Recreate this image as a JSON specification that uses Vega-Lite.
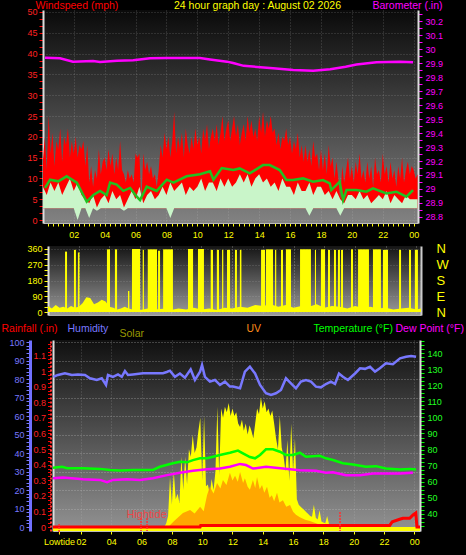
{
  "$schema": "https://vega.github.io/schema/vega-lite/v6.json",
  "background": "#000000",
  "padding": {"left": 0, "top": 0, "right": 2, "bottom": 9},
  "config": {
    "view": {"stroke": null},
    "font": "Liberation Sans",
    "axis": {"labelFont": "Liberation Sans", "titleFont": "Liberation Sans", "titleFontWeight": "normal", "labelFontSize": 9, "titleFontSize": 10.5, "gridDash": [1, 2], "gridColor": "#c8c8c8", "gridOpacity": 0.55, "tickWidth": 1, "labelOverlap": false}
  },
  "datasets": {
    "gust": [
      {"h":0,"g":14},{"h":0.125,"g":20},{"h":0.25,"g":12},{"h":0.375,"g":25},{"h":0.5,"g":16},{"h":0.625,"g":21},{"h":0.75,"g":13},{"h":0.875,"g":19},
      {"h":1,"g":17},{"h":1.125,"g":22},{"h":1.25,"g":14},{"h":1.375,"g":20},{"h":1.5,"g":18},{"h":1.625,"g":22},{"h":1.75,"g":15},{"h":1.875,"g":19},
      {"h":2,"g":16},{"h":2.125,"g":20},{"h":2.25,"g":15},{"h":2.375,"g":18},{"h":2.5,"g":17},{"h":2.625,"g":19},{"h":2.75,"g":13},{"h":2.875,"g":18},
      {"h":3,"g":9},{"h":3.125,"g":13},{"h":3.25,"g":8},{"h":3.375,"g":12},{"h":3.5,"g":10},{"h":3.625,"g":17},{"h":3.75,"g":11},{"h":3.875,"g":14},
      {"h":4,"g":15},{"h":4.125,"g":12},{"h":4.25,"g":17},{"h":4.375,"g":13},{"h":4.5,"g":16},{"h":4.625,"g":11},{"h":4.75,"g":15},{"h":4.875,"g":12},
      {"h":5,"g":19},{"h":5.125,"g":12},{"h":5.25,"g":11},{"h":5.375,"g":9},{"h":5.5,"g":12},{"h":5.625,"g":10},{"h":5.75,"g":11},{"h":5.875,"g":9},
      {"h":6,"g":16},{"h":6.125,"g":15},{"h":6.25,"g":16},{"h":6.375,"g":4},{"h":6.5,"g":16},{"h":6.625,"g":12},{"h":6.75,"g":14},{"h":6.875,"g":11},
      {"h":7,"g":13},{"h":7.125,"g":10},{"h":7.25,"g":11},{"h":7.375,"g":8},{"h":7.5,"g":12},{"h":7.625,"g":18},{"h":7.75,"g":15},{"h":7.875,"g":21},
      {"h":8,"g":17},{"h":8.125,"g":20},{"h":8.25,"g":15},{"h":8.375,"g":19},{"h":8.5,"g":26},{"h":8.625,"g":16},{"h":8.75,"g":20},{"h":8.875,"g":17},
      {"h":9,"g":21},{"h":9.125,"g":15},{"h":9.25,"g":22},{"h":9.375,"g":18},{"h":9.5,"g":16},{"h":9.625,"g":20},{"h":9.75,"g":17},{"h":9.875,"g":22},
      {"h":10,"g":18},{"h":10.125,"g":20},{"h":10.25,"g":16},{"h":10.375,"g":22},{"h":10.5,"g":19},{"h":10.625,"g":23},{"h":10.75,"g":17},{"h":10.875,"g":20},
      {"h":11,"g":22},{"h":11.125,"g":19},{"h":11.25,"g":23},{"h":11.375,"g":18},{"h":11.5,"g":21},{"h":11.625,"g":25},{"h":11.75,"g":19},{"h":11.875,"g":22},
      {"h":12,"g":24},{"h":12.125,"g":19},{"h":12.25,"g":22},{"h":12.375,"g":25},{"h":12.5,"g":20},{"h":12.625,"g":23},{"h":12.75,"g":18},{"h":12.875,"g":21},
      {"h":13,"g":23},{"h":13.125,"g":19},{"h":13.25,"g":25},{"h":13.375,"g":21},{"h":13.5,"g":24},{"h":13.625,"g":20},{"h":13.75,"g":22},{"h":13.875,"g":19},
      {"h":14,"g":25},{"h":14.125,"g":21},{"h":14.25,"g":26},{"h":14.375,"g":20},{"h":14.5,"g":24},{"h":14.625,"g":22},{"h":14.75,"g":25},{"h":14.875,"g":21},
      {"h":15,"g":22},{"h":15.125,"g":18},{"h":15.25,"g":21},{"h":15.375,"g":17},{"h":15.5,"g":20},{"h":15.625,"g":19},{"h":15.75,"g":22},{"h":15.875,"g":18},
      {"h":16,"g":20},{"h":16.125,"g":16},{"h":16.25,"g":19},{"h":16.375,"g":17},{"h":16.5,"g":21},{"h":16.625,"g":15},{"h":16.75,"g":18},{"h":16.875,"g":14},
      {"h":17,"g":18},{"h":17.125,"g":14},{"h":17.25,"g":17},{"h":17.375,"g":13},{"h":17.5,"g":19},{"h":17.625,"g":15},{"h":17.75,"g":16},{"h":17.875,"g":12},
      {"h":18,"g":17},{"h":18.125,"g":12},{"h":18.25,"g":16},{"h":18.375,"g":11},{"h":18.5,"g":18},{"h":18.625,"g":13},{"h":18.75,"g":15},{"h":18.875,"g":10},
      {"h":19,"g":14},{"h":19.125,"g":10},{"h":19.25,"g":5},{"h":19.375,"g":13},{"h":19.5,"g":9},{"h":19.625,"g":12},{"h":19.75,"g":15},{"h":19.875,"g":10},
      {"h":20,"g":13},{"h":20.125,"g":9},{"h":20.25,"g":14},{"h":20.375,"g":11},{"h":20.5,"g":16},{"h":20.625,"g":10},{"h":20.75,"g":12},{"h":20.875,"g":9},
      {"h":21,"g":14},{"h":21.125,"g":10},{"h":21.25,"g":13},{"h":21.375,"g":8},{"h":21.5,"g":15},{"h":21.625,"g":11},{"h":21.75,"g":12},{"h":21.875,"g":9},
      {"h":22,"g":16},{"h":22.125,"g":11},{"h":22.25,"g":13},{"h":22.375,"g":9},{"h":22.5,"g":14},{"h":22.625,"g":10},{"h":22.75,"g":12},{"h":22.875,"g":8},
      {"h":23,"g":13},{"h":23.125,"g":10},{"h":23.25,"g":15},{"h":23.375,"g":9},{"h":23.5,"g":12},{"h":23.625,"g":14},{"h":23.75,"g":11},{"h":23.875,"g":13},
      {"h":24,"g":12},{"h":24.125,"g":10},{"h":24.25,"g":11}
    ],
    "spd": [
      {"h":0,"s":8,"lo":2.8},{"h":0.25,"s":6,"lo":2.8},{"h":0.5,"s":9,"lo":2.8},{"h":0.75,"s":7,"lo":2.8},
      {"h":1,"s":9,"lo":2.8},{"h":1.25,"s":6,"lo":2.8},{"h":1.5,"s":8,"lo":2.8},{"h":1.75,"s":10,"lo":2.8},
      {"h":2,"s":7,"lo":2.8},{"h":2.25,"s":9,"lo":0},{"h":2.5,"s":6,"lo":2.8},{"h":2.75,"s":5,"lo":2.8},
      {"h":3,"s":4,"lo":0.5},{"h":3.25,"s":6,"lo":2.8},{"h":3.5,"s":3,"lo":2.2},{"h":3.75,"s":5,"lo":2.8},
      {"h":4,"s":6,"lo":2.8},{"h":4.25,"s":4,"lo":2.8},{"h":4.5,"s":7,"lo":2.8},{"h":4.75,"s":5,"lo":2.8},
      {"h":5,"s":6,"lo":2.8},{"h":5.25,"s":3,"lo":2.2},{"h":5.5,"s":5,"lo":2.8},{"h":5.75,"s":7,"lo":2.8},
      {"h":6,"s":5,"lo":2.8},{"h":6.25,"s":8,"lo":2.8},{"h":6.5,"s":4,"lo":2.8},{"h":6.75,"s":6,"lo":2.8},
      {"h":7,"s":7,"lo":2.8},{"h":7.25,"s":5,"lo":2.8},{"h":7.5,"s":6,"lo":2.8},{"h":7.75,"s":8,"lo":2.8},
      {"h":8,"s":6,"lo":2.8},{"h":8.25,"s":9,"lo":0.5},{"h":8.5,"s":7,"lo":2.8},{"h":8.75,"s":8,"lo":2.8},
      {"h":9,"s":9,"lo":2.8},{"h":9.25,"s":6,"lo":2.8},{"h":9.5,"s":8,"lo":2.8},{"h":9.75,"s":7,"lo":2.8},
      {"h":10,"s":8,"lo":2.8},{"h":10.25,"s":10,"lo":2.8},{"h":10.5,"s":7,"lo":2.8},{"h":10.75,"s":9,"lo":2.8},
      {"h":11,"s":9,"lo":2.8},{"h":11.25,"s":7,"lo":2.8},{"h":11.5,"s":10,"lo":2.8},{"h":11.75,"s":8,"lo":2.8},
      {"h":12,"s":10,"lo":2.8},{"h":12.25,"s":8,"lo":2.8},{"h":12.5,"s":9,"lo":2.8},{"h":12.75,"s":11,"lo":2.8},
      {"h":13,"s":9,"lo":2.8},{"h":13.25,"s":11,"lo":2.8},{"h":13.5,"s":8,"lo":2.8},{"h":13.75,"s":10,"lo":2.8},
      {"h":14,"s":11,"lo":2.8},{"h":14.25,"s":9,"lo":2.8},{"h":14.5,"s":10,"lo":2.8},{"h":14.75,"s":8,"lo":2.8},
      {"h":15,"s":9,"lo":2.8},{"h":15.25,"s":7,"lo":2.8},{"h":15.5,"s":10,"lo":2.8},{"h":15.75,"s":8,"lo":2.8},
      {"h":16,"s":8,"lo":2.8},{"h":16.25,"s":6,"lo":2.8},{"h":16.5,"s":9,"lo":2.8},{"h":16.75,"s":7,"lo":2.8},
      {"h":17,"s":7,"lo":2.8},{"h":17.25,"s":9,"lo":1},{"h":17.5,"s":6,"lo":2.8},{"h":17.75,"s":8,"lo":2.8},
      {"h":18,"s":8,"lo":2.8},{"h":18.25,"s":6,"lo":2.8},{"h":18.5,"s":7,"lo":2.8},{"h":18.75,"s":5,"lo":2.8},
      {"h":19,"s":7,"lo":2.8},{"h":19.25,"s":5,"lo":1},{"h":19.5,"s":4,"lo":2.8},{"h":19.75,"s":6,"lo":2.8},
      {"h":20,"s":6,"lo":2.8},{"h":20.25,"s":5,"lo":2.8},{"h":20.5,"s":7,"lo":2.8},{"h":20.75,"s":5,"lo":2.8},
      {"h":21,"s":6,"lo":2.8},{"h":21.25,"s":4,"lo":2.8},{"h":21.5,"s":5,"lo":2.8},{"h":21.75,"s":6,"lo":2.8},
      {"h":22,"s":5,"lo":2.8},{"h":22.25,"s":7,"lo":2.8},{"h":22.5,"s":4,"lo":2.8},{"h":22.75,"s":6,"lo":2.8},
      {"h":23,"s":5,"lo":2.8},{"h":23.25,"s":4,"lo":2.8},{"h":23.5,"s":6,"lo":2.8},{"h":23.75,"s":5,"lo":2.8},
      {"h":24,"s":5,"lo":2.8},{"h":24.25,"s":5,"lo":2.8}
    ],
    "avg": [
      {"h":0.14,"a":7.7},{"h":0.47,"a":9.7},{"h":1.0,"a":9.3},{"h":1.54,"a":10.5},{"h":2.2,"a":9},{"h":2.84,"a":4.4},{"h":3.27,"a":6},{"h":3.7,"a":7},{"h":4.13,"a":6},{"h":4.35,"a":9},{"h":4.78,"a":8.5},{"h":5.21,"a":7},{"h":5.65,"a":7.7},{"h":6.08,"a":5.6},{"h":6.29,"a":4.8},{"h":6.72,"a":8},{"h":7.37,"a":7},{"h":8.02,"a":9.7},{"h":8.45,"a":9},{"h":9.3,"a":10.5},{"h":10.17,"a":11},{"h":10.82,"a":11.7},{"h":11.04,"a":9.7},{"h":11.58,"a":12.5},{"h":12.33,"a":12},{"h":12.74,"a":12.4},{"h":13.39,"a":11.2},{"h":14.25,"a":13.2},{"h":14.68,"a":13.2},{"h":15.33,"a":12},{"h":15.76,"a":9.6},{"h":16.19,"a":9.6},{"h":16.84,"a":10},{"h":17.49,"a":9.2},{"h":18.13,"a":9.6},{"h":18.57,"a":8.8},{"h":18.67,"a":7.2},{"h":19.21,"a":9.2},{"h":19.43,"a":4.8},{"h":19.65,"a":7.2},{"h":20.29,"a":7.2},{"h":20.94,"a":6.8},{"h":21.37,"a":7.6},{"h":22.23,"a":6.4},{"h":22.88,"a":6.8},{"h":23.53,"a":5.6},{"h":23.96,"a":7.2}
    ],
    "baro": [
      {"h":0.14,"b":29.938},{"h":1.11,"b":29.934},{"h":1.95,"b":29.91},{"h":3.25,"b":29.914},{"h":3.7,"b":29.908},{"h":4.8,"b":29.917},{"h":5.85,"b":29.92},{"h":6.94,"b":29.934},{"h":8.0,"b":29.936},{"h":10.17,"b":29.936},{"h":10.82,"b":29.926},{"h":11.92,"b":29.91},{"h":12.31,"b":29.9},{"h":13.0,"b":29.88},{"h":14.9,"b":29.863},{"h":16.2,"b":29.85},{"h":17.5,"b":29.845},{"h":18.6,"b":29.856},{"h":19.6,"b":29.874},{"h":20.3,"b":29.89},{"h":21.6,"b":29.905},{"h":23.1,"b":29.91},{"h":23.96,"b":29.905}
    ],
    "spikes": [
      {"h":1.11,"h2":1.24,"d":345},{"h":1.69,"h2":1.82,"d":355},{"h":1.95,"h2":2.05,"d":340},{"h":3.84,"h2":4.04,"d":358},{"h":4.36,"h2":4.5,"d":358},{"h":5.21,"h2":5.3,"d":120},{"h":5.47,"h2":6.0,"d":360},{"h":6.17,"h2":6.25,"d":355},{"h":6.5,"h2":7.1,"d":358},{"h":7.17,"h2":7.3,"d":350},{"h":7.5,"h2":8.14,"d":358},{"h":9.12,"h2":9.45,"d":360},{"h":9.77,"h2":10.16,"d":360},{"h":10.6,"h2":10.75,"d":355},{"h":11.0,"h2":11.14,"d":355},{"h":11.34,"h2":11.42,"d":355},{"h":11.66,"h2":11.86,"d":355},{"h":12.18,"h2":12.31,"d":355},{"h":12.5,"h2":12.6,"d":355},{"h":13.88,"h2":14.14,"d":355},{"h":14.2,"h2":14.66,"d":358},{"h":14.79,"h2":14.87,"d":355},{"h":15.18,"h2":15.31,"d":355},{"h":15.5,"h2":15.83,"d":358},{"h":16.42,"h2":17.13,"d":358},{"h":17.39,"h2":17.46,"d":355},{"h":17.78,"h2":18.05,"d":358},{"h":18.24,"h2":18.37,"d":355},{"h":18.63,"h2":18.76,"d":355},{"h":18.89,"h2":19.02,"d":355},{"h":19.09,"h2":19.22,"d":355},{"h":19.74,"h2":19.87,"d":358},{"h":20.2,"h2":20.91,"d":358},{"h":21.17,"h2":21.69,"d":358},{"h":21.82,"h2":22.15,"d":355},{"h":22.87,"h2":23.0,"d":355},{"h":23.52,"h2":23.65,"d":355},{"h":23.9,"h2":24.1,"d":355}
    ],
    "dir": [
      {"h":0,"d":35},{"h":0.25,"d":20},{"h":0.5,"d":40},{"h":0.75,"d":25},{"h":1,"d":30},{"h":1.25,"d":20},{"h":1.5,"d":35},{"h":1.75,"d":25},{"h":2,"d":30},{"h":2.25,"d":50},{"h":2.5,"d":85},{"h":2.75,"d":80},{"h":3,"d":45},{"h":3.25,"d":55},{"h":3.5,"d":70},{"h":3.75,"d":60},{"h":4,"d":30},{"h":4.25,"d":25},{"h":4.5,"d":15},{"h":4.75,"d":20},{"h":5,"d":30},{"h":5.25,"d":20},{"h":5.5,"d":15},{"h":5.75,"d":25},{"h":6,"d":12},{"h":6.5,"d":20},{"h":7,"d":15},{"h":7.5,"d":18},{"h":8,"d":12},{"h":8.5,"d":20},{"h":9,"d":15},{"h":9.5,"d":25},{"h":10,"d":15},{"h":10.5,"d":20},{"h":11,"d":12},{"h":11.5,"d":25},{"h":12,"d":20},{"h":12.5,"d":30},{"h":13,"d":25},{"h":13.5,"d":40},{"h":14,"d":35},{"h":14.5,"d":45},{"h":15,"d":30},{"h":15.5,"d":40},{"h":16,"d":25},{"h":16.5,"d":35},{"h":17,"d":30},{"h":17.5,"d":45},{"h":18,"d":25},{"h":18.5,"d":35},{"h":19,"d":30},{"h":19.5,"d":20},{"h":20,"d":35},{"h":20.5,"d":25},{"h":21,"d":30},{"h":21.5,"d":20},{"h":22,"d":25},{"h":22.5,"d":15},{"h":23,"d":20},{"h":23.5,"d":25},{"h":24,"d":15},{"h":24.3,"d":20}
    ],
    "solar": [
      {"h":0.15,"w":0},{"h":7.5,"w":0},{"h":7.625,"w":20},{"h":7.75,"w":60},{"h":7.875,"w":270},{"h":8.0,"w":120},{"h":8.125,"w":300},{"h":8.25,"w":150},{"h":8.375,"w":180},{"h":8.5,"w":130},{"h":8.625,"w":380},{"h":8.75,"w":200},{"h":8.875,"w":380},{"h":9.0,"w":230},{"h":9.125,"w":420},{"h":9.25,"w":380},{"h":9.375,"w":497},{"h":9.5,"w":400},{"h":9.625,"w":430},{"h":9.75,"w":520},{"h":9.875,"w":590},{"h":10.0,"w":250},{"h":10.125,"w":600},{"h":10.25,"w":220},{"h":10.375,"w":230},{"h":10.5,"w":180},{"h":10.625,"w":260},{"h":10.75,"w":200},{"h":10.875,"w":300},{"h":11.0,"w":650},{"h":11.125,"w":280},{"h":11.25,"w":640},{"h":11.375,"w":590},{"h":11.5,"w":650},{"h":11.625,"w":620},{"h":11.75,"w":670},{"h":11.875,"w":600},{"h":12.0,"w":640},{"h":12.125,"w":600},{"h":12.25,"w":620},{"h":12.375,"w":560},{"h":12.5,"w":540},{"h":12.625,"w":580},{"h":12.75,"w":520},{"h":12.875,"w":560},{"h":13.0,"w":500},{"h":13.125,"w":550},{"h":13.25,"w":520},{"h":13.375,"w":480},{"h":13.5,"w":560},{"h":13.625,"w":640},{"h":13.75,"w":610},{"h":13.875,"w":700},{"h":14.0,"w":640},{"h":14.125,"w":680},{"h":14.25,"w":620},{"h":14.375,"w":640},{"h":14.5,"w":600},{"h":14.625,"w":630},{"h":14.75,"w":560},{"h":14.875,"w":480},{"h":15.0,"w":420},{"h":15.125,"w":600},{"h":15.25,"w":430},{"h":15.375,"w":380},{"h":15.5,"w":300},{"h":15.625,"w":470},{"h":15.75,"w":250},{"h":15.875,"w":560},{"h":16.0,"w":300},{"h":16.125,"w":480},{"h":16.25,"w":150},{"h":16.375,"w":120},{"h":16.5,"w":110},{"h":16.625,"w":100},{"h":16.75,"w":90},{"h":16.875,"w":80},{"h":17.0,"w":70},{"h":17.125,"w":60},{"h":17.25,"w":55},{"h":17.375,"w":120},{"h":17.5,"w":50},{"h":17.625,"w":40},{"h":17.75,"w":90},{"h":17.875,"w":30},{"h":18.0,"w":25},{"h":18.125,"w":20},{"h":18.25,"w":60},{"h":18.375,"w":15},{"h":18.5,"w":10},{"h":18.625,"w":0},{"h":24.38,"w":0}
    ],
    "uv": [
      {"h":0.15,"u":0},{"h":7.75,"u":0},{"h":8.2,"u":1.1},{"h":8.73,"u":2.3},{"h":9.2,"u":2.8},{"h":9.5,"u":2.2},{"h":9.86,"u":3.3},{"h":10.1,"u":2.6},{"h":10.32,"u":5.2},{"h":10.5,"u":6.6},{"h":10.75,"u":5.5},{"h":10.98,"u":7.2},{"h":11.2,"u":6.3},{"h":11.37,"u":7.7},{"h":11.6,"u":6.9},{"h":11.83,"u":8.9},{"h":12.0,"u":7.6},{"h":12.17,"u":8.4},{"h":12.35,"u":7.4},{"h":12.5,"u":9.0},{"h":12.7,"u":7.2},{"h":12.82,"u":8.0},{"h":13.0,"u":6.6},{"h":13.15,"u":6.1},{"h":13.35,"u":7.7},{"h":13.5,"u":6.4},{"h":13.62,"u":8.2},{"h":13.8,"u":6.2},{"h":13.95,"u":6.9},{"h":14.1,"u":5.6},{"h":14.28,"u":6.6},{"h":14.45,"u":4.8},{"h":14.6,"u":5.2},{"h":14.75,"u":4.2},{"h":14.94,"u":5.6},{"h":15.1,"u":4.0},{"h":15.33,"u":4.4},{"h":15.55,"u":3.3},{"h":15.8,"u":3.6},{"h":16.0,"u":2.5},{"h":16.19,"u":2.0},{"h":16.45,"u":1.6},{"h":16.8,"u":1.2},{"h":17.11,"u":1.0},{"h":17.64,"u":0.5},{"h":18.1,"u":0.2},{"h":18.44,"u":0},{"h":24.38,"u":0}
    ],
    "hum": [
      {"h":0.17,"v":81.2},{"h":0.48,"v":82.2},{"h":0.94,"v":83.1},{"h":1.39,"v":82.2},{"h":1.8,"v":82.5},{"h":2.26,"v":82.2},{"h":2.59,"v":80.4},{"h":3.04,"v":79.5},{"h":3.37,"v":80.4},{"h":3.65,"v":76.8},{"h":3.78,"v":82.2},{"h":4.11,"v":81.2},{"h":4.44,"v":82.5},{"h":4.69,"v":81.2},{"h":4.9,"v":84.3},{"h":5.1,"v":82.2},{"h":5.43,"v":82.5},{"h":6.09,"v":83.1},{"h":7.41,"v":83.1},{"h":7.66,"v":83.8},{"h":7.87,"v":84.5},{"h":8.2,"v":81.2},{"h":8.53,"v":83},{"h":8.86,"v":80.7},{"h":9.24,"v":85.2},{"h":9.52,"v":79.5},{"h":9.86,"v":84},{"h":9.99,"v":87.6},{"h":10.18,"v":81.2},{"h":10.51,"v":78.6},{"h":10.84,"v":79.5},{"h":11.17,"v":76.8},{"h":11.5,"v":78.6},{"h":11.83,"v":75.9},{"h":12.03,"v":75.9},{"h":12.5,"v":75},{"h":12.82,"v":84},{"h":13.15,"v":86.7},{"h":13.49,"v":83},{"h":13.82,"v":76.8},{"h":14.21,"v":72.3},{"h":14.54,"v":71.4},{"h":14.87,"v":72.3},{"h":15.2,"v":74.1},{"h":15.53,"v":80.4},{"h":15.86,"v":77.7},{"h":16.19,"v":75},{"h":16.52,"v":78.6},{"h":16.85,"v":79.5},{"h":17.18,"v":78.6},{"h":17.51,"v":75.9},{"h":17.84,"v":75.5},{"h":18.17,"v":77.3},{"h":18.5,"v":78.6},{"h":18.77,"v":77.3},{"h":19.03,"v":83},{"h":19.29,"v":81.2},{"h":19.62,"v":79.5},{"h":20.09,"v":83},{"h":20.42,"v":85.8},{"h":20.75,"v":85.5},{"h":21.08,"v":86.6},{"h":21.41,"v":84},{"h":21.73,"v":85.8},{"h":22.13,"v":88.5},{"h":22.59,"v":88},{"h":23.06,"v":91.2},{"h":23.46,"v":92},{"h":23.79,"v":92.5},{"h":24.12,"v":92}
    ],
    "temp": [
      {"h":0.15,"t":68.6},{"h":0.75,"t":69.2},{"h":1.08,"t":68.3},{"h":2.13,"t":68.3},{"h":3.25,"t":67.9},{"h":3.91,"t":67.2},{"h":4.57,"t":66.9},{"h":5.43,"t":67.2},{"h":6.75,"t":67.2},{"h":7.21,"t":69.2},{"h":8.07,"t":71.4},{"h":8.53,"t":72.4},{"h":9.0,"t":72},{"h":9.39,"t":73.4},{"h":9.86,"t":74.5},{"h":10.32,"t":74.5},{"h":10.72,"t":75.5},{"h":11.17,"t":76.6},{"h":11.83,"t":78},{"h":12.36,"t":79.3},{"h":12.69,"t":77.6},{"h":13.15,"t":75.3},{"h":13.49,"t":74.5},{"h":13.82,"t":76.6},{"h":14.21,"t":80.1},{"h":14.67,"t":80.1},{"h":15.13,"t":78.6},{"h":15.53,"t":76.6},{"h":15.99,"t":76.6},{"h":16.45,"t":78},{"h":16.85,"t":75.5},{"h":17.31,"t":75.8},{"h":17.77,"t":76.1},{"h":18.17,"t":74.5},{"h":18.63,"t":73.4},{"h":19.29,"t":71.4},{"h":19.95,"t":70.7},{"h":20.81,"t":69.2},{"h":21.47,"t":69.6},{"h":22.13,"t":68.1},{"h":23.06,"t":67.5},{"h":23.72,"t":67.9},{"h":24.12,"t":67.5}
    ],
    "dew": [
      {"h":0.15,"t":62},{"h":0.81,"t":62.5},{"h":2.13,"t":61.4},{"h":3.25,"t":61},{"h":3.72,"t":59.6},{"h":4.11,"t":61},{"h":5.04,"t":61.4},{"h":5.89,"t":61},{"h":6.75,"t":62},{"h":7.68,"t":64},{"h":8.53,"t":65.5},{"h":9.39,"t":66.7},{"h":10.32,"t":67.6},{"h":11.17,"t":68.2},{"h":11.83,"t":69.2},{"h":12.5,"t":71},{"h":12.89,"t":70.3},{"h":13.35,"t":68.1},{"h":14.21,"t":69.2},{"h":15.33,"t":68.1},{"h":16.45,"t":67},{"h":17.51,"t":66.7},{"h":18.17,"t":65.5},{"h":18.63,"t":65.8},{"h":19.49,"t":64},{"h":20.42,"t":64},{"h":21.27,"t":65},{"h":22.13,"t":65},{"h":23.06,"t":65},{"h":23.91,"t":65.5}
    ],
    "rain": [
      {"h":0.15,"r":0},{"h":9.86,"r":0},{"h":9.9,"r":0.01},{"h":22.38,"r":0.01},{"h":22.55,"r":0.034},{"h":23.04,"r":0.05},{"h":23.25,"r":0.056},{"h":23.7,"r":0.056},{"h":23.92,"r":0.077},{"h":24.1,"r":0.09},{"h":24.18,"r":0},{"h":24.38,"r":0}
    ],
    "tide": [
      {"h":0.55,"r1":0.02,"r2":-0.04},{"h":5.96,"r1":0.058,"r2":-0.026},{"h":6.36,"r1":0.058,"r2":-0.026},{"h":19.1,"r1":0.096,"r2":-0.026}
    ],
    "tidelabel": [
      {"h":6.33,"r":0.077,"t":"Hightide"}
    ]
  },
  "spacing": 3,
  "vconcat": [
    {
      "spacing": 0,
      "hconcat": [
        {"width": 26, "height": 1, "data": {"values": []}, "mark": "point"},
        {
          "width": 375, "height": 213,
          "view": {"stroke": null, "fill": {"gradient": "linear", "x1": 0, "y1": 0, "x2": 0, "y2": 1, "stops": [{"offset": 0, "color": "#0a0a0a"}, {"offset": 1, "color": "#828282"}]}},
          "encoding": {"x": {"field": "h", "type": "quantitative", "scale": {"domain": [0.01, 24.28], "nice": false, "zero": false},
            "axis": {"values": [0.3333,0.6667,1,1.3333,1.6667,2,2.3333,2.6667,3,3.3333,3.6667,4,4.3333,4.6667,5,5.3333,5.6667,6,6.3333,6.6667,7,7.3333,7.6667,8,8.3333,8.6667,9,9.3333,9.6667,10,10.3333,10.6667,11,11.3333,11.6667,12,12.3333,12.6667,13,13.3333,13.6667,14,14.3333,14.6667,15,15.3333,15.6667,16,16.3333,16.6667,17,17.3333,17.6667,18,18.3333,18.6667,19,19.3333,19.6667,20,20.3333,20.6667,21,21.3333,21.6667,22,22.3333,22.6667,23,23.3333,23.6667,24],
              "labelExpr": "abs(datum.value / 2 - round(datum.value / 2)) > 0.01 ? '' : datum.value == 24 ? '00' : datum.value < 10 ? '0' + datum.value : '' + datum.value",
              "labelColor": "#ffff00", "tickColor": "#ffff00", "tickSize": 3, "labelPadding": 4, "domainColor": "#bbbbbb", "grid": true,
              "gridOpacity": {"condition": {"test": "abs(datum.value / 2 - round(datum.value / 2)) > 0.01", "value": 0}, "value": 0.55}, "title": null}}},
          "layer": [
            {"data": {"name": "gust"}, "mark": {"type": "area", "color": "#ff0000", "clip": true},
             "encoding": {"y": {"field": "g", "type": "quantitative", "scale": {"domain": [-0.72, 50.48], "nice": false, "zero": false},
               "axis": {"orient": "left", "values": [0,1.6667,3.3333,5,6.6667,8.3333,10,11.6667,13.3333,15,16.6667,18.3333,20,21.6667,23.3333,25,26.6667,28.3333,30,31.6667,33.3333,35,36.6667,38.3333,40,41.6667,43.3333,45,46.6667,48.3333,50],
                 "labelExpr": "abs(datum.value / 5 - round(datum.value / 5)) > 0.01 ? '' : format(datum.value, 'd')",
                 "labelColor": "#ff2020", "tickColor": "#ff0000", "tickSize": 4, "labelPadding": 2, "domainColor": "#dddddd", "domainWidth": 2, "grid": true,
                 "gridOpacity": {"condition": {"test": "abs(datum.value / 5 - round(datum.value / 5)) > 0.01", "value": 0}, "value": 0.55},
                 "title": "Windspeed (mph)", "titleColor": "#ff0000", "titleAngle": 0, "titleAlign": "left", "titleBaseline": "alphabetic", "titleX": -8, "titleY": -1.5}},
               "y2": {"datum": 2.8}}},
            {"data": {"name": "spd"}, "mark": {"type": "area", "color": "#c9f5c9", "clip": true},
             "encoding": {"y": {"field": "s", "type": "quantitative", "scale": {"domain": [-0.72, 50.48], "nice": false, "zero": false},
               "axis": {"orient": "left", "labels": false, "ticks": false, "domain": false, "grid": false, "title": "24 hour graph day : August 02 2026", "titleColor": "#ffff00", "titleAngle": 0, "titleAlign": "center", "titleBaseline": "alphabetic", "titleX": 214, "titleY": -1.5}},
               "y2": {"field": "lo"}}},
            {"data": {"name": "avg"}, "mark": {"type": "line", "color": "#22c022", "strokeWidth": 2.5, "clip": true},
             "encoding": {"y": {"field": "a", "type": "quantitative", "scale": {"domain": [-0.72, 50.48], "nice": false, "zero": false}, "axis": null}}},
            {"data": {"name": "baro"}, "mark": {"type": "line", "color": "#ff00ff", "strokeWidth": 2.5, "clip": true},
             "encoding": {"y": {"field": "b", "type": "quantitative", "scale": {"domain": [28.757, 30.279], "nice": false, "zero": false},
               "axis": {"orient": "right", "values": [28.8,28.85,28.9,28.95,29,29.05,29.1,29.15,29.2,29.25,29.3,29.35,29.4,29.45,29.5,29.55,29.6,29.65,29.7,29.75,29.8,29.85,29.9,29.95,30,30.05,30.1,30.15,30.2,30.25],
                 "labelExpr": "abs(datum.value * 10 - round(datum.value * 10)) > 0.01 ? '' : format(datum.value, '~g')",
                 "labelColor": "#ff00ff", "tickColor": "#ff00ff", "tickSize": 4, "labelPadding": 3, "domainColor": "#dddddd", "domainWidth": 2, "grid": false, "title": "Barometer (.in)", "titleColor": "#ff00ff", "titleAngle": 0, "titleAlign": "left", "titleBaseline": "alphabetic", "titleX": -46, "titleY": -1.5}}}}
          ],
          "resolve": {"scale": {"y": "independent"}}
        }
      ]
    },
    {
      "spacing": 0,
      "hconcat": [
        {"width": 26, "height": 1, "data": {"values": []}, "mark": "point"},
        {
          "width": 373, "height": 69,
          "view": {"stroke": null, "fill": {"gradient": "linear", "x1": 0, "y1": 0, "x2": 0, "y2": 1, "stops": [{"offset": 0, "color": "#151515"}, {"offset": 1, "color": "#9a9a9a"}]}},
          "encoding": {"x": {"field": "h", "type": "quantitative", "scale": {"domain": [0, 24.3], "nice": false, "zero": false},
            "axis": {"values": [2,4,6,8,10,12,14,16,18,20,22,24], "labels": false, "ticks": false, "domainColor": "#aaaaaa", "grid": true, "title": null}}},
          "layer": [
            {"data": {"name": "spikes"}, "mark": {"type": "bar", "color": "#ffff00"},
             "encoding": {"x2": {"field": "h2"}, "y": {"field": "d", "type": "quantitative", "scale": {"domain": [-17, 377], "nice": false, "zero": false},
               "axis": {"orient": "left", "values": [0,30,60,90,120,150,180,210,240,270,300,330,360],
                 "labelExpr": "datum.value % 90 == 0 ? format(datum.value, 'd') : ''",
                 "labelColor": "#ffff00", "tickColor": "#ffff00", "tickSize": 4, "labelPadding": 2, "domainColor": "#dddddd", "domainWidth": 2, "grid": true,
                 "gridOpacity": {"condition": {"test": "datum.value % 90 != 0", "value": 0}, "value": 0.55}, "title": null}},
               "y2": {"datum": 0}}},
            {"data": {"name": "dir"}, "mark": {"type": "area", "color": "#ffff00"},
             "encoding": {"y": {"field": "d", "type": "quantitative", "scale": {"domain": [-17, 377], "nice": false, "zero": false}, "axis": null}}},
            {"data": {"name": "dir"}, "mark": {"type": "line", "opacity": 0},
             "encoding": {"y": {"field": "d", "type": "quantitative", "scale": {"domain": [-17, 377], "nice": false, "zero": false},
               "axis": {"orient": "right", "values": [0,90,180,270,360], "labelExpr": "datum.value == 90 ? 'E' : datum.value == 180 ? 'S' : datum.value == 270 ? 'W' : 'N'", "labelColor": "#ffff00", "labelFontSize": 13, "labelPadding": 15, "ticks": false, "domainColor": "#cccccc", "domainWidth": 2, "grid": false, "title": null}}}}
          ],
          "resolve": {"scale": {"y": "independent"}}
        }
      ]
    },
    {
      "spacing": 0,
      "hconcat": [
        {"width": 1, "height": 1, "data": {"values": []}, "mark": "point"},
        {
          "width": 367, "height": 191,
          "view": {"stroke": null, "fill": {"gradient": "linear", "x1": 0, "y1": 0, "x2": 0, "y2": 1, "stops": [{"offset": 0, "color": "#101010"}, {"offset": 1, "color": "#929292"}]}},
          "encoding": {"x": {"field": "h", "type": "quantitative", "scale": {"domain": [0.15, 24.38], "nice": false, "zero": false},
            "axis": {"values": [0.55,2,4,6,8,10,12,14,16,18,20,22,24], "labelExpr": "datum.value < 1 ? 'Lowtide' : datum.value == 24 ? '00' : datum.value < 10 ? '0' + datum.value : '' + datum.value", "labelColor": "#ffff00", "tickColor": "#ffff00", "tickSize": 3, "labelPadding": 3, "domainColor": "#bbbbbb", "grid": true, "gridOpacity": {"condition": {"test": "datum.value < 1", "value": 0}, "value": 0.55}, "title": null}}},
          "layer": [
            {"data": {"name": "solar"}, "mark": {"type": "area", "color": "#ffff00", "clip": true},
             "encoding": {"y": {"field": "w", "type": "quantitative", "scale": {"domain": [-21.6, 1011], "nice": false, "zero": false},
               "axis": {"orient": "left", "values": [0,100,200,300,400,500,600,700,800,900,1000], "labels": false, "ticks": false, "grid": true, "domain": true, "domainColor": "#dddddd", "domainWidth": 2, "title": "Solar", "titleColor": "#9a9a00", "titleAngle": 0, "titleAlign": "left", "titleBaseline": "alphabetic", "titleX": 66, "titleY": -4}},
               "y2": {"datum": -21}}},
            {"data": {"name": "uv"}, "mark": {"type": "area", "color": "#ff9900", "opacity": 0.85, "clip": true},
             "encoding": {"y": {"field": "u", "type": "quantitative", "scale": {"domain": [-0.655, 30.63], "nice": false, "zero": false},
               "axis": {"orient": "left", "labels": false, "ticks": false, "grid": false, "domain": false, "title": "UV", "titleColor": "#ff8c1a", "titleAngle": 0, "titleAlign": "left", "titleBaseline": "alphabetic", "titleX": 193, "titleY": -9}}}},
            {"data": {"name": "hum"}, "mark": {"type": "line", "color": "#7878ff", "strokeWidth": 2.5, "clip": true},
             "encoding": {"y": {"field": "v", "type": "quantitative", "scale": {"domain": [-2.16, 101.1], "nice": false, "zero": false},
               "axis": {"orient": "left", "offset": 23, "values": [0,2,4,6,8,10,12,14,16,18,20,22,24,26,28,30,32,34,36,38,40,42,44,46,48,50,52,54,56,58,60,62,64,66,68,70,72,74,76,78,80,82,84,86,88,90,92,94,96,98,100],
                 "labelExpr": "datum.value % 10 == 0 ? format(datum.value, 'd') : ''",
                 "labelColor": "#7878ff", "tickColor": "#7878ff", "tickSize": 4, "labelPadding": 2, "domainColor": "#7070ff", "domainWidth": 3, "grid": false, "title": "Humidity", "titleColor": "#7878ff", "titleAngle": 0, "titleAlign": "left", "titleBaseline": "alphabetic", "titleX": 37, "titleY": -9}}}},
            {"data": {"name": "temp"}, "mark": {"type": "line", "color": "#00ff00", "strokeWidth": 2.5, "clip": true},
             "encoding": {"y": {"field": "t", "type": "quantitative", "scale": {"domain": [29.1, 148.4], "nice": false, "zero": false},
               "axis": {"orient": "right", "values": [32.5,35,37.5,40,42.5,45,47.5,50,52.5,55,57.5,60,62.5,65,67.5,70,72.5,75,77.5,80,82.5,85,87.5,90,92.5,95,97.5,100,102.5,105,107.5,110,112.5,115,117.5,120,122.5,125,127.5,130,132.5,135,137.5,140,142.5,145,147.5],
                 "labelExpr": "datum.value % 10 == 0 ? format(datum.value, 'd') : ''",
                 "labelColor": "#22ff22", "tickColor": "#00ff00", "tickSize": 4, "labelPadding": 3, "domainColor": "#dddddd", "domainWidth": 2, "grid": false, "title": "Temperature (°F)", "titleColor": "#00ff00", "titleAngle": 0, "titleAlign": "left", "titleBaseline": "alphabetic", "titleX": -107, "titleY": -9}}}},
            {"data": {"name": "dew"}, "mark": {"type": "line", "color": "#ff00ff", "strokeWidth": 2.5, "clip": true},
             "encoding": {"y": {"field": "t", "type": "quantitative", "scale": {"domain": [29.1, 148.4], "nice": false, "zero": false},
               "axis": {"orient": "right", "labels": false, "ticks": false, "domain": false, "grid": false, "title": "Dew Point (°F)", "titleColor": "#ff00ff", "titleAngle": 0, "titleAlign": "left", "titleBaseline": "alphabetic", "titleX": -25, "titleY": -9}}}},
            {"data": {"name": "rain"}, "mark": {"type": "line", "color": "#ff0000", "strokeWidth": 3, "clip": true},
             "encoding": {"y": {"field": "r", "type": "quantitative", "scale": {"domain": [-0.0256, 1.199], "nice": false, "zero": false},
               "axis": {"orient": "left", "offset": 2.5, "values": [0,0.025,0.05,0.075,0.1,0.125,0.15,0.175,0.2,0.225,0.25,0.275,0.3,0.325,0.35,0.375,0.4,0.425,0.45,0.475,0.5,0.525,0.55,0.575,0.6,0.625,0.65,0.675,0.7,0.725,0.75,0.775,0.8,0.825,0.85,0.875,0.9,0.925,0.95,0.975,1,1.025,1.05,1.075,1.1,1.125,1.15,1.175,1.2],
                 "labelExpr": "abs(datum.value * 10 - round(datum.value * 10)) > 0.01 ? '' : format(datum.value, '~g')",
                 "labelColor": "#ff2020", "tickColor": "#ff0000", "tickSize": 3, "labelPadding": 2, "domainColor": "#ff3030", "domainDash": [2, 2], "domainWidth": 2, "grid": false, "title": "Rainfall (.in)", "titleColor": "#ff0000", "titleAngle": 0, "titleAlign": "left", "titleBaseline": "alphabetic", "titleX": -49.5, "titleY": -9}}}},
            {"data": {"name": "tide"}, "mark": {"type": "rule", "color": "#ff3030", "strokeDash": [2, 1], "strokeWidth": 1.5},
             "encoding": {"y": {"field": "r1", "type": "quantitative", "scale": {"domain": [-0.0256, 1.199], "nice": false, "zero": false}, "axis": null}, "y2": {"field": "r2"}}},
            {"data": {"name": "tidelabel"}, "mark": {"type": "text", "color": "#ff3c3c", "fontSize": 11, "opacity": 0.85},
             "encoding": {"y": {"field": "r", "type": "quantitative", "scale": {"domain": [-0.0256, 1.199], "nice": false, "zero": false}, "axis": null}, "text": {"field": "t"}}}
          ],
          "resolve": {"scale": {"y": "independent"}}
        }
      ]
    }
  ]
}
